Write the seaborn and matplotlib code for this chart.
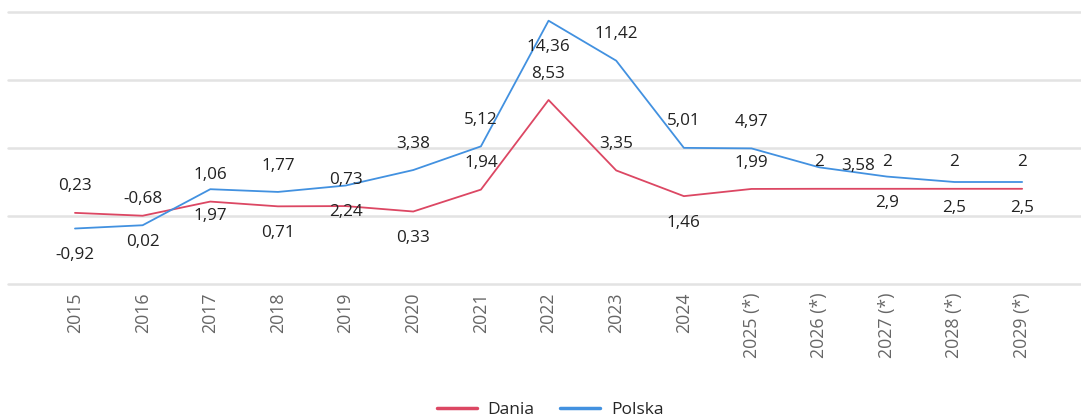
import numpy as np
import pandas as pd
import matplotlib
matplotlib.use('Agg')
import matplotlib.pyplot as plt
import seaborn as sns

# dane
years = ['2015', '2016', '2017', '2018', '2019', '2020', '2021', '2022', '2023', '2024',
         '2025 (*)', '2026 (*)', '2027 (*)', '2028 (*)', '2029 (*)']
dania = [0.23, 0.02, 1.06, 0.71, 0.73, 0.33, 1.94, 8.53, 3.35, 1.46, 1.99, 2, 2, 2, 2]
polska = [-0.92, -0.68, 1.97, 1.77, 2.24, 3.38, 5.12, 14.36, 11.42, 5.01, 4.97, 3.58, 2.9, 2.5, 2.5]

# położenie etykiet: +1 nad punktem, -1 pod punktem, 0 z prawej
dania_pos = [1, -1, 1, -1, 1, -1, 1, 1, 1, -1, 1, 1, 1, 1, 1]
polska_pos = [-1, 1, -1, 1, -1, 1, 1, -1, 1, 1, 1, 0, -1, -1, -1]

kolory = {'Dania': '#dc4763', 'Polska': '#4291e0'}

df = pd.DataFrame({'rok': years, 'Dania': dania, 'Polska': polska})
df['x'] = np.arange(len(years))
long_df = df.melt(id_vars=['rok', 'x'], value_vars=['Dania', 'Polska'],
                  var_name='kraj', value_name='wartosc')

sns.set_style('white')
plt.rcParams['font.family'] = ['Open Sans', 'DejaVu Sans']

fig = plt.figure(figsize=(10.81, 4.2), dpi=100)
ax = fig.add_axes([8 / 1081, 1 - 284 / 420, 1 - 8 / 1081, 272 / 420])

for y in [-5, 0, 5, 10, 15]:
    ax.axhline(y, color='#e3e3e3', lw=1.8, zorder=0, clip_on=False)

sns.lineplot(data=long_df, x='x', y='wartosc', hue='kraj', palette=kolory,
             linewidth=1.3, ax=ax, legend=False, sort=False)

def fmt(v):
    s = ('%.2f' % v).rstrip('0').rstrip('.')
    return s.replace('.', ',')

for vals, pos in [(dania, dania_pos), (polska, polska_pos)]:
    for i, (v, p) in enumerate(zip(vals, pos)):
        if p == 0:
            ax.annotate(fmt(v), (i, v), xytext=(28, 1), textcoords='offset points',
                        ha='center', va='center', fontsize=12.3, color='#222222')
        else:
            ax.annotate(fmt(v), (i, v), xytext=(0, 19 * p), textcoords='offset points',
                        ha='center', va='center', fontsize=12.3, color='#222222')

ax.set_xlim(-0.99, 14.87)
ax.set_ylim(-5, 15)
ax.set_xticks(df['x'])
ax.set_xticklabels(years, rotation=90, va='top', fontsize=12.8, color='#666666')
ax.tick_params(axis='x', length=0, pad=6)
ax.set_yticks([])
ax.set_xlabel('')
ax.set_ylabel('')
for s in ax.spines.values():
    s.set_visible(False)

handles = [plt.Line2D([], [], color=kolory[k], lw=2.5) for k in ['Dania', 'Polska']]
fig.legend(handles, ['Dania', 'Polska'], loc='center', bbox_to_anchor=(0.509, 0.025),
           ncol=2, frameon=False, fontsize=12.5, handlelength=2.3, columnspacing=1.5,
           handletextpad=0.63)

fig.savefig('out.png', dpi=100)
